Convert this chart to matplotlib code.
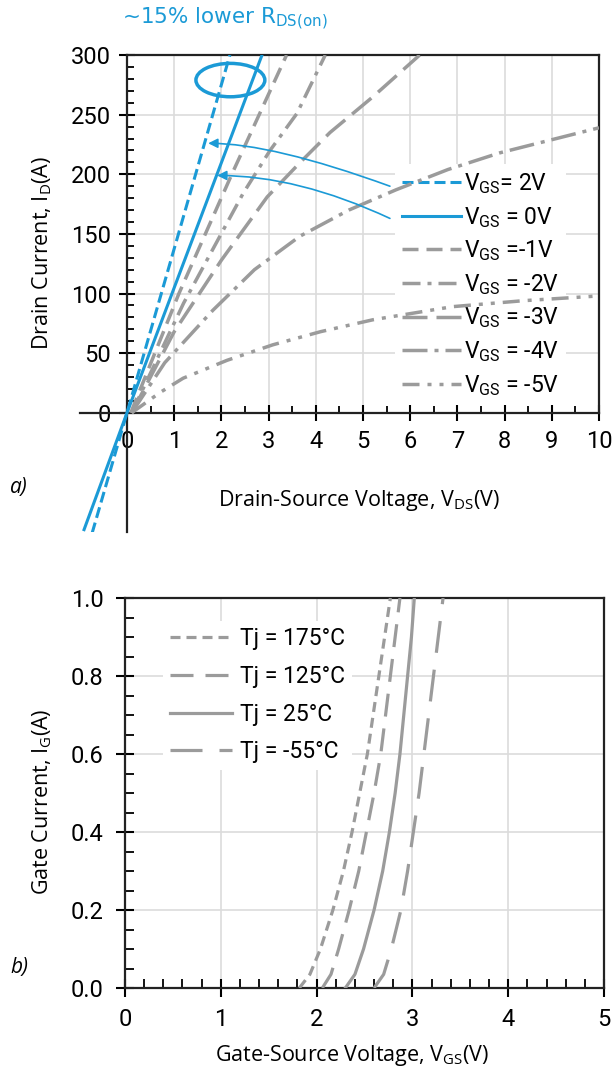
import matplotlib
matplotlib.use('Agg')
from matplotlib import pyplot as plt
from matplotlib.patches import Ellipse

# ---- data: (a) output characteristics, I_D vs V_DS ----
vds_p2 = [-0.74, 0, 2.18]
id_p2 = [-101, 0, 300]
vds_0 = [-0.91, 0, 2.86]
id_0 = [-98, 0, 300]
vds_m1 = [0.08, 1.1, 2.22, 3.38]
id_m1 = [0, 100, 200, 300]
vds_m2 = [0.1, 1.2, 2.46, 3.03, 3.6, 4.2]
id_m2 = [0, 92, 184, 220, 251, 300]
vds_m3 = [0.1, 1.0, 2.0, 2.97, 3.67, 4.3, 5.21, 6.2]
id_m3 = [0, 68, 128, 181, 210, 235, 265, 300]
vds_m4 = [0.1, 0.8, 1.82, 2.7, 3.66, 4.7, 5.7, 6.8, 7.9, 10]
id_m4 = [0, 42, 86, 120, 148, 170, 187, 204, 218, 239]
vds_m5 = [0.1, 0.7, 1.19, 2.12, 3.09, 4.1, 5.21, 6.9, 8.4, 10]
id_m5 = [0, 17, 29, 44, 57, 68, 78, 89, 94, 98]

# ---- data: (b) gate characteristics, I_G vs V_GS ----
ig_pts = [0, 0.035, 0.1, 0.2, 0.3, 0.4, 0.5, 0.6, 0.7, 0.8, 0.9, 1.0]
vgs_175 = [1.82, 1.93, 2.04, 2.17, 2.28, 2.37, 2.45, 2.53, 2.59, 2.65, 2.71, 2.77]
vgs_125 = [2.06, 2.15, 2.23, 2.34, 2.44, 2.52, 2.60, 2.67, 2.72, 2.77, 2.82, 2.87]
vgs_25 = [2.30, 2.40, 2.49, 2.60, 2.69, 2.76, 2.82, 2.87, 2.91, 2.95, 2.99, 3.02]
vgs_m55 = [2.60, 2.70, 2.78, 2.88, 2.95, 3.01, 3.07, 3.12, 3.17, 3.22, 3.27, 3.32]

plt.rcParams['font.family'] = ['Roboto', 'DejaVu Sans']
plt.rcParams['mathtext.fontset'] = 'custom'
plt.rcParams['mathtext.rm'] = 'Roboto'
plt.rcParams['mathtext.default'] = 'regular'
plt.rcParams['lines.scale_dashes'] = False

BLUE = '#1b9ad6'
GRAY = '#9b9b9b'
GRID = '#dcdcdc'
LABEL_FONT = ['Open Sans', 'DejaVu Sans']


def px(v):
    # pixel length -> points (dpi 100)
    return v * 0.72


fig = plt.figure(figsize=(6.12, 10.75), dpi=100)

# ================= (a) =================
ax1 = fig.add_axes([0.1304, 0.5051, 0.8484, 0.4437])
ax1.set_xlim(-1, 10)
ax1.set_ylim(-100, 300)

ax1.spines['left'].set_position(('data', 0))
ax1.spines['bottom'].set_position(('data', 0))
ax1.spines['top'].set_bounds(0, 10)
ax1.spines['right'].set_bounds(0, 300)
for s in ax1.spines.values():
    s.set_linewidth(1.6)
    s.set_color('#222222')

xt = list(range(0, 11))
yt = list(range(0, 301, 50))
ax1.set_xticks(xt)
ax1.set_xticks([x + 0.5 for x in range(10)], minor=True)
ax1.set_yticks(yt)
ax1.set_yticks([y for y in range(10, 300, 10) if y % 50], minor=True)
ax1.tick_params(which='major', direction='inout', length=11, width=1.5, labelsize=17)
ax1.tick_params(axis='x', which='major', pad=7)
ax1.tick_params(axis='y', which='major', pad=6)
ax1.tick_params(which='minor', direction='in', length=5, width=1.3)

ax1.vlines(xt[1:-1], 0, 300, color=GRID, lw=1.2, zorder=0.5)
ax1.hlines(yt[1:-1], 0, 10, color=GRID, lw=1.2, zorder=0.5)

ax1.plot(vds_p2, id_p2, color=BLUE, lw=2.2, dashes=(px(11), px(5)), label=r'V$_{GS}$= 2V', zorder=3)
ax1.plot(vds_0, id_0, color=BLUE, lw=2.2, label=r'V$_{GS}$ = 0V', zorder=3)
ax1.plot(vds_m1, id_m1, color=GRAY, lw=2.5, dashes=(px(16), px(8)), label=r'V$_{GS}$ =-1V', zorder=3)
ax1.plot(vds_m2, id_m2, color=GRAY, lw=2.5, dashes=(px(18), px(7), px(4), px(7)), label=r'V$_{GS}$ = -2V', zorder=3)
ax1.plot(vds_m3, id_m3, color=GRAY, lw=2.5, dashes=(px(25), px(9)), label=r'V$_{GS}$ = -3V', zorder=3)
ax1.plot(vds_m4, id_m4, color=GRAY, lw=2.5, dashes=(px(25), px(7), px(4), px(7)), label=r'V$_{GS}$ = -4V', zorder=3)
ax1.plot(vds_m5, id_m5, color=GRAY, lw=2.5, dashes=(px(17), px(8), px(4), px(8), px(4), px(8)),
         label=r'V$_{GS}$ = -5V', zorder=3)

leg1 = ax1.legend(loc='upper left', bbox_to_anchor=(0.607, 0.771), frameon=True, fontsize=16.5,
                  handlelength=2.6, handletextpad=0.1, labelspacing=0.38, borderpad=0.3,
                  borderaxespad=0)
leg1.get_frame().set_facecolor('white')
leg1.get_frame().set_edgecolor('none')
leg1.get_frame().set_alpha(1)
leg1.set_zorder(2)

ax1.add_patch(Ellipse((2.19, 279), 1.46, 28, fill=False, ec=BLUE, lw=2.5, zorder=4))
ax1.annotate('', xy=(1.72, 226), xytext=(5.57, 190),
             arrowprops=dict(arrowstyle='-|>', color=BLUE, lw=1.2, mutation_scale=14,
                             shrinkA=0, shrinkB=0,
                             connectionstyle='angle3,angleA=160,angleB=0'), zorder=4)
ax1.annotate('', xy=(1.91, 199), xytext=(5.57, 163),
             arrowprops=dict(arrowstyle='-|>', color=BLUE, lw=1.2, mutation_scale=14,
                             shrinkA=0, shrinkB=0,
                             connectionstyle='angle3,angleA=155,angleB=0'), zorder=4)

ax1.set_xlabel(r'Drain-Source Voltage, V$_{DS}$(V)', fontsize=15.5, family=LABEL_FONT)
ax1.xaxis.set_label_coords(0.538, 0.067)
ax1.xaxis.label.set_va('center')
ax1.set_ylabel(r'Drain Current, I$_{D}$(A)', fontsize=15.5, family=LABEL_FONT)
ax1.yaxis.set_label_coords(-0.073, 0.585)
ax1.yaxis.label.set_va('center')

fig.text(122 / 612, 1 - 19 / 1075, r'~15% lower R$_{DS(on)}$', color=BLUE, fontsize=15.5,
         family=['DejaVu Sans'], va='center')
fig.text(10 / 612, 1 - 488 / 1075, 'a)', fontsize=15, style='italic', family=LABEL_FONT,
         va='center')

# ================= (b) =================
ax2 = fig.add_axes([125 / 612, 1 - 988 / 1075, 479 / 612, 390 / 1075])
ax2.set_xlim(0, 5)
ax2.set_ylim(0, 1)
for s in ax2.spines.values():
    s.set_linewidth(1.6)
    s.set_color('#222222')

xt2 = [0, 1, 2, 3, 4, 5]
yt2 = [0.0, 0.2, 0.4, 0.6, 0.8, 1.0]
ax2.set_xticks(xt2)
ax2.set_xticks([i * 0.2 for i in range(26) if i % 5], minor=True)
ax2.set_yticks(yt2)
ax2.set_yticks([i * 0.05 for i in range(21) if i % 4], minor=True)
ax2.set_yticklabels(['%.1f' % v for v in yt2])
ax2.tick_params(which='major', direction='inout', length=13, width=1.5, labelsize=17)
ax2.tick_params(axis='x', which='major', pad=8)
ax2.tick_params(axis='y', which='major', pad=9)
ax2.tick_params(which='minor', direction='in', length=6.5, width=1.3)
ax2.vlines(xt2[1:-1], 0, 1, color=GRID, lw=1.2, zorder=0.5)
ax2.hlines(yt2[1:-1], 0, 5, color=GRID, lw=1.2, zorder=0.5)

ax2.plot(vgs_175, ig_pts, color=GRAY, lw=2.3, dashes=(px(10), px(6)), label='Tj = 175°C', zorder=3)
ax2.plot(vgs_125, ig_pts, color=GRAY, lw=2.3, dashes=(px(23), px(12)), label='Tj = 125°C', zorder=3)
ax2.plot(vgs_25, ig_pts, color=GRAY, lw=2.3, label='Tj = 25°C', zorder=3)
ax2.plot(vgs_m55, ig_pts, color=GRAY, lw=2.3, dashes=(px(32), px(17)), label='Tj = -55°C', zorder=3)

leg2 = ax2.legend(loc='upper left', bbox_to_anchor=(0.08, 0.942), frameon=True, fontsize=16.5,
                  handlelength=2.7, handletextpad=0.35, labelspacing=0.64, borderpad=0.3,
                  borderaxespad=0)
leg2.get_frame().set_facecolor('white')
leg2.get_frame().set_edgecolor('none')
leg2.get_frame().set_alpha(1)
leg2.set_zorder(2)

ax2.set_xlabel(r'Gate-Source Voltage, V$_{GS}$(V)', fontsize=15.5, family=LABEL_FONT)
ax2.xaxis.set_label_coords(0.474, -0.172)
ax2.xaxis.label.set_va('center')
ax2.set_ylabel(r'Gate Current, I$_{G}$(A)', fontsize=15.5, family=LABEL_FONT)
ax2.yaxis.set_label_coords(-0.173, 0.477)
ax2.yaxis.label.set_va('center')

fig.text(10 / 612, 1 - 967 / 1075, 'b)', fontsize=15, style='italic', family=LABEL_FONT,
         va='center')

plt.savefig('out.png', dpi=100)
